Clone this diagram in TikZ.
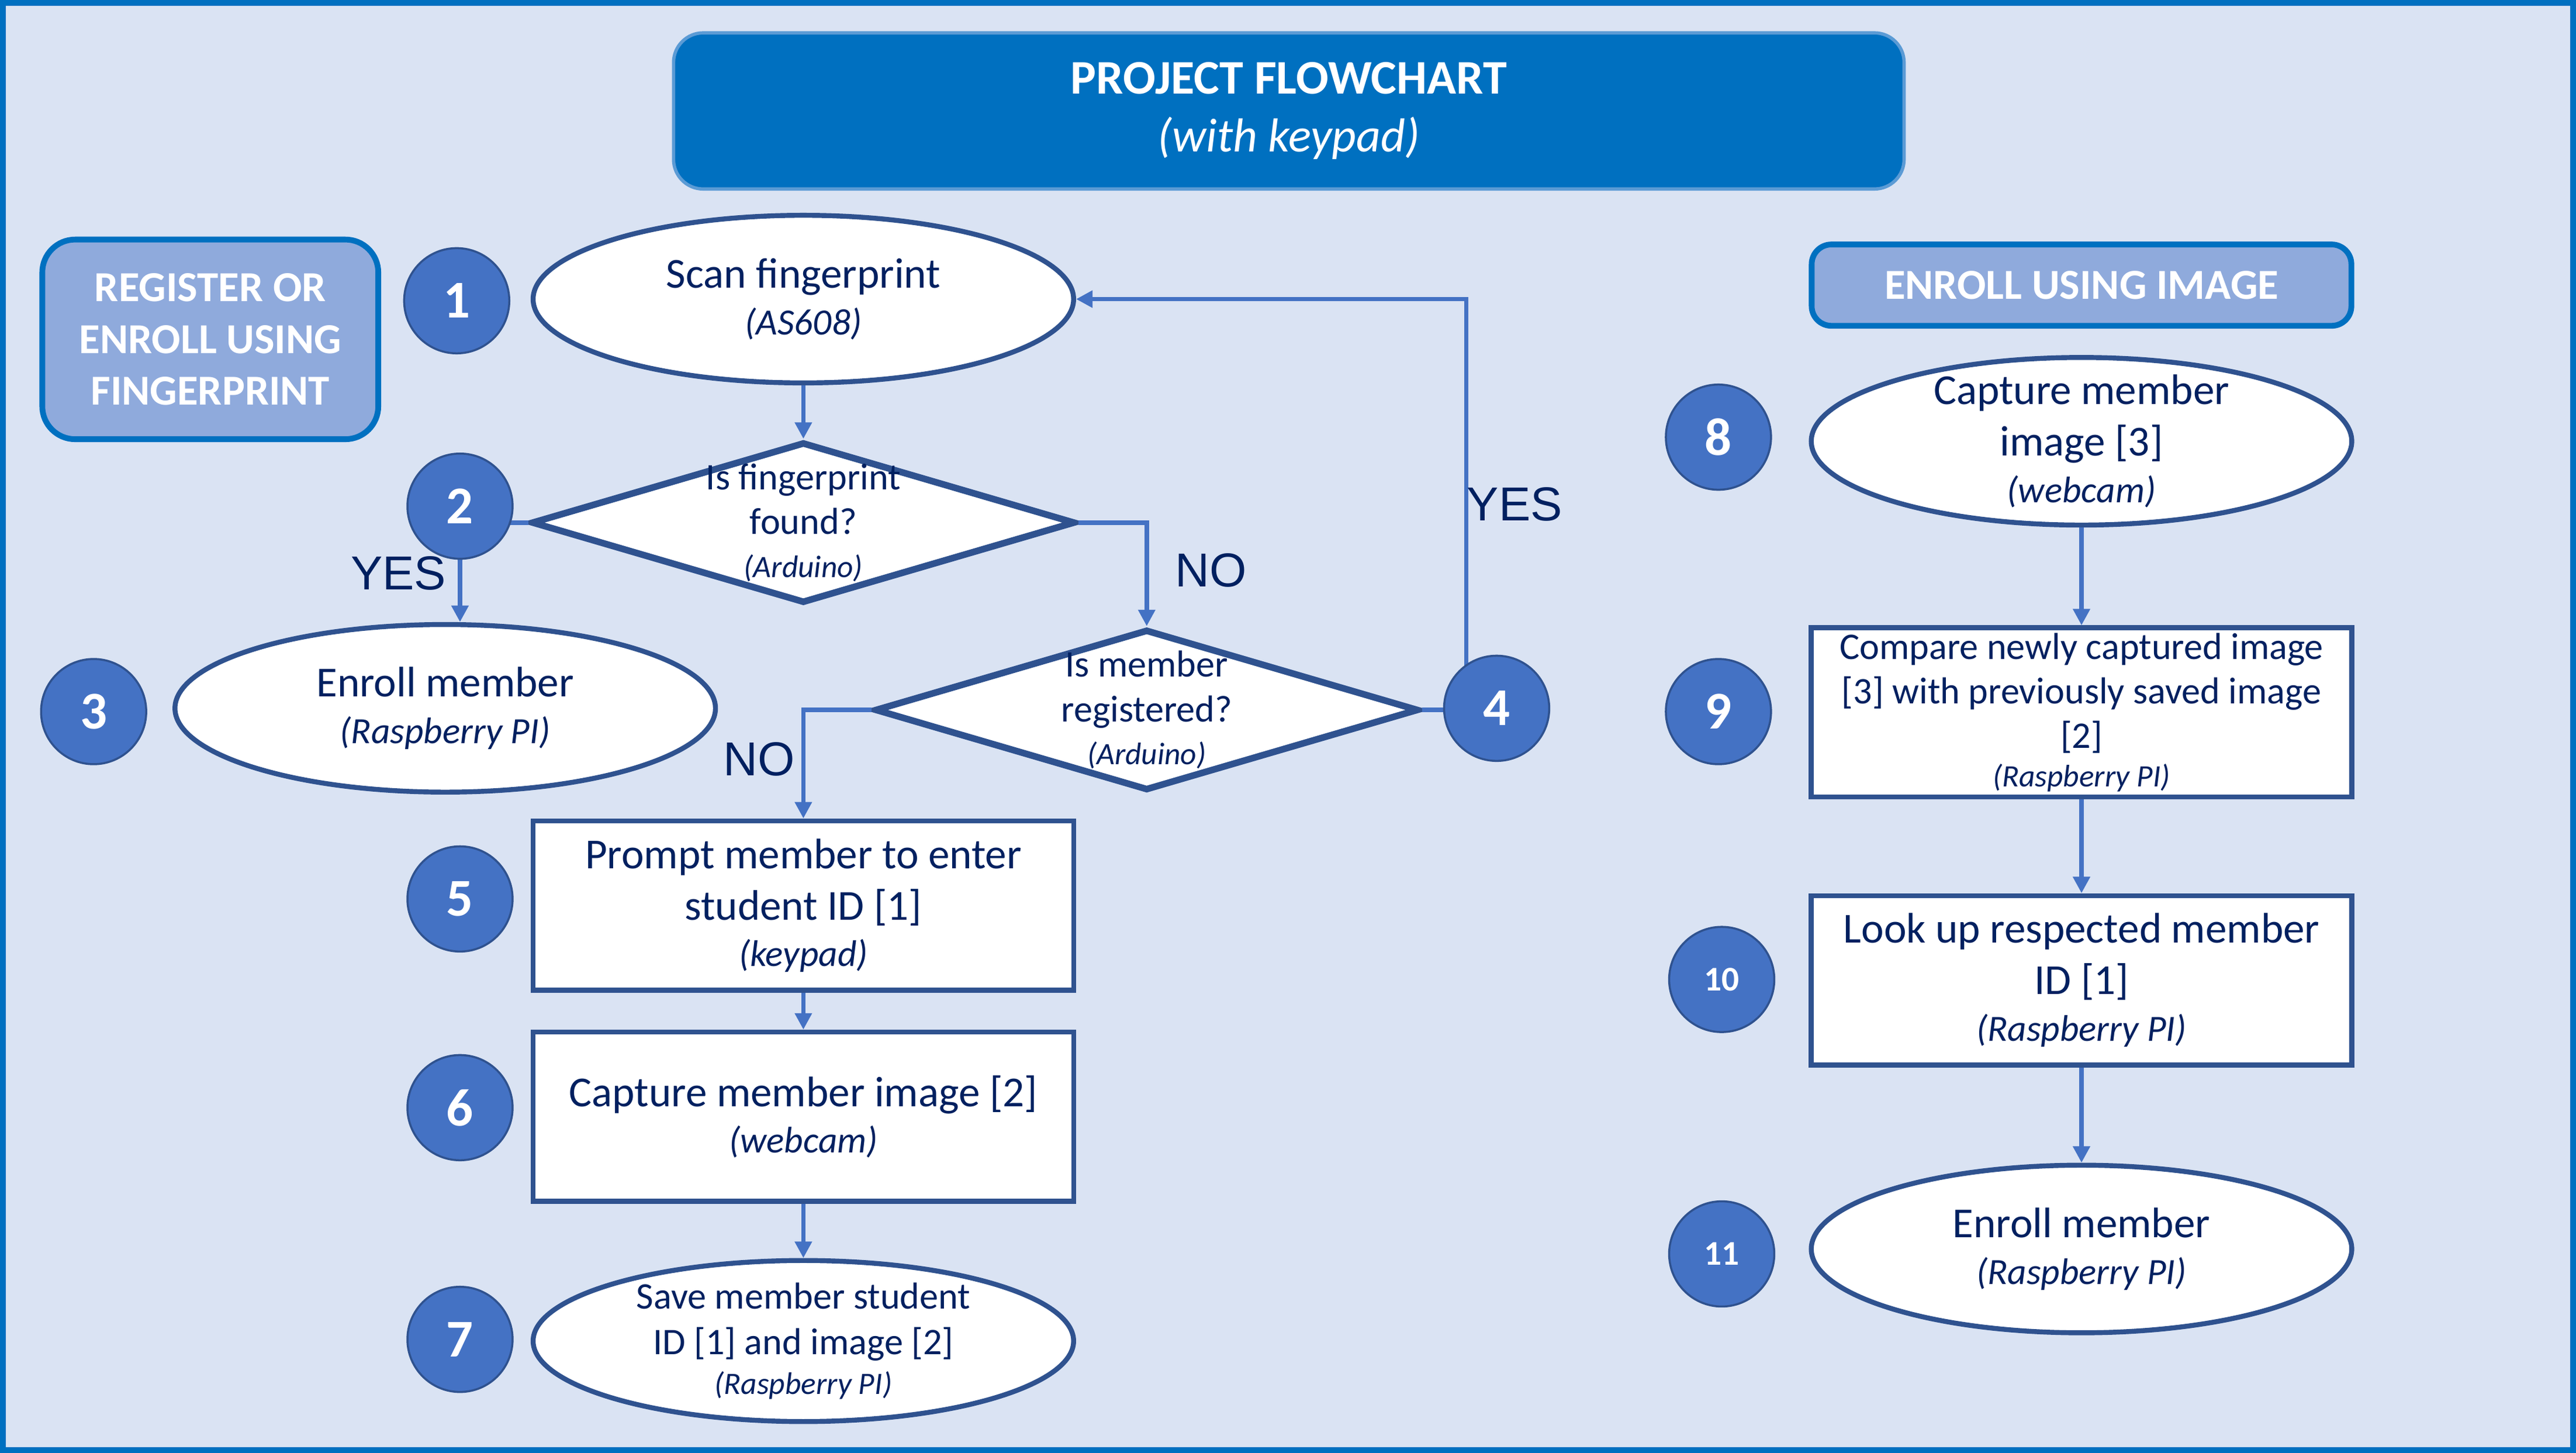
\documentclass[tikz,border=0pt]{standalone}
\usepackage{fontspec}
\setmainfont{Carlito}
\newfontfamily\answerfont{Liberation Sans}
\usepackage{tikz}
\usetikzlibrary{shapes.geometric,arrows.meta,positioning}
\definecolor{pagebg}{HTML}{DAE3F3}
\definecolor{frameblue}{HTML}{0070C0}
\definecolor{titleline}{HTML}{5B9BD5}
\definecolor{headfill}{HTML}{8FAADC}
\definecolor{shapeline}{HTML}{2F528F}
\definecolor{linkblue}{HTML}{4472C4}
\definecolor{navy}{HTML}{002060}
\newcommand{\subline}{\fontsize{12.8}{15}\selectfont\itshape}
\newcommand{\smallsub}{\fontsize{10.8}{13}\selectfont\itshape}
\tikzset{
    x=0.2mm, y=-0.2mm,
    flow/.style = {draw=shapeline, fill=white, text=navy, align=center, line width=0.6mm, font=\fontsize{14.8}{15.4}\selectfont},
    oval/.style = {flow, ellipse, minimum width=65.8mm, minimum height=20.4mm, inner xsep=0pt, inner ysep=-3mm},
    box/.style = {flow, rectangle, minimum width=65.8mm, minimum height=20.6mm, inner sep=0pt},
    decision/.style = {flow, diamond, line width=0.8mm, minimum width=66.2mm, minimum height=19.6mm, inner sep=-12mm, font=\fontsize{13}{15.4}\selectfont},
    stepnum/.style = {circle, draw=shapeline, fill=linkblue, line width=0.25mm, minimum size=12.8mm, inner sep=0pt, text=white, font=\fontsize{18.4}{20}\selectfont\bfseries},
    header/.style = {draw=frameblue, fill=headfill, line width=0.7mm, rounded corners=4mm, text=white, align=center, font=\fontsize{14.8}{17.9}\selectfont\bfseries},
    answer/.style = {text=navy, inner sep=0pt, font=\answerfont\fontsize{16.5}{19}\selectfont},
    link/.style = {draw=linkblue, line width=0.55mm, -{Triangle[length=2mm,width=2mm]}}
}

\begin{document}
\begin{tikzpicture}
    \useasboundingbox (0,0) rectangle (1568,884);
    \draw[draw=frameblue, fill=pagebg, line width=0.7mm] (1.75,1.75) rectangle (1566.25,882.25);

    % headings
    \node[draw=titleline, fill=frameblue, line width=0.4mm, rounded corners=3.6mm, minimum width=149.8mm, minimum height=19mm, text=white, align=center, font=\fontsize{16.7}{18.8}\selectfont\bfseries] (title) at (784.5,67.5) {PROJECT FLOWCHART\\[1.2pt]{\fontsize{16.5}{18.8}\selectfont\mdseries\itshape (with keypad)}};
    \node[header, minimum width=40.9mm, minimum height=24.3mm] (fp) at (128,206.5) {REGISTER OR\\ENROLL USING\\FINGERPRINT};
    \node[header, rounded corners=2.4mm, minimum width=65.7mm, minimum height=9.9mm] (img) at (1267,173.5) {ENROLL USING IMAGE};

    % fingerprint branch
    \node[oval] (1) at (489,182) {Scan fingerprint\\[0.8pt]{\subline (AS608)}};
    \node[decision] (2) at (489,318) {Is fingerprint\\found?\\[-0.5pt]{\smallsub (Arduino)}};
    \node[oval] (3) at (271,431) {Enroll member\\[0.8pt]{\subline (Raspberry PI)}};
    \node[decision] (4) at (698,432) {Is member\\registered?\\[-0.5pt]{\smallsub (Arduino)}};
    \node[box] (5) at (489,551) {Prompt member to enter\\[2.4pt]student ID [1]\\[0.5pt]{\subline (keypad)}};
    \node[box] (6) [below = 4.5mm of 5] {Capture member image [2]\\[0.5pt]{\subline (webcam)}};
    \node[oval, minimum height=19.6mm, font=\fontsize{13}{15.8}\selectfont] (7) [below = 6.6mm of 6] {Save member student\\ID [1] and image [2]\\[-2pt]{\smallsub (Raspberry PI)}};

    % image branch
    \node[oval] (8) at (1267,268.5) {Capture member\\[2.4pt]image [3]\\[0.8pt]{\subline (webcam)}};
    \node[box, font=\fontsize{13}{15.4}\selectfont] (9) at (1267,433.5) {Compare newly captured image\\{}[3] with previously saved image\\{}[2]\\[-2pt]{\smallsub (Raspberry PI)}};
    \node[box] (10) [below = 11.4mm of 9] {Look up respected member\\[2.4pt]ID [1]\\[0.8pt]{\subline (Raspberry PI)}};
    \node[oval] (11) [below = 11.6mm of 10] {Enroll member\\[0.8pt]{\subline (Raspberry PI)}};

    % connectors
    \path (1) edge[link] (2);
    \draw[link] (2.west) -| ([xshift=1.8mm]3.north);
    \draw[link] (2.east) -| (4.north);
    \draw[link] (4.east) -- ++(27,0) |- (1.east);
    \draw[link] (4.west) -| (5.north);
    \path (5) edge[link] (6);
    \path (6) edge[link] (7);
    \path (8) edge[link] (9);
    \path (9) edge[link] (10);
    \path (10) edge[link] (11);

    \node[answer] (yes1) at (242.5,349) {YES};
    \node[answer] (no1) at (737,347) {NO};
    \node[answer] (yes2) at (922,307) {YES};
    \node[answer] (no2) at (462,462) {NO};

    % step numbers
    \node[stepnum] (n1) at (278,183) {1};
    \node[stepnum] (n2) at (280,308) {2};
    \node[stepnum] (n3) at (57,433) {3};
    \node[stepnum] (n4) at (911,431) {4};
    \node[stepnum] (n5) at (280,547) {5};
    \node[stepnum] (n6) at (280,674) {6};
    \node[stepnum] (n7) at (280,815) {7};
    \node[stepnum] (n8) at (1046,266) {8};
    \node[stepnum] (n9) at (1046,433) {9};
    \node[stepnum, font=\fontsize{12}{14}\selectfont\bfseries] (n10) at (1048,596) {10};
    \node[stepnum, font=\fontsize{12}{14}\selectfont\bfseries] (n11) at (1048,763) {11};
\end{tikzpicture}
\end{document}
